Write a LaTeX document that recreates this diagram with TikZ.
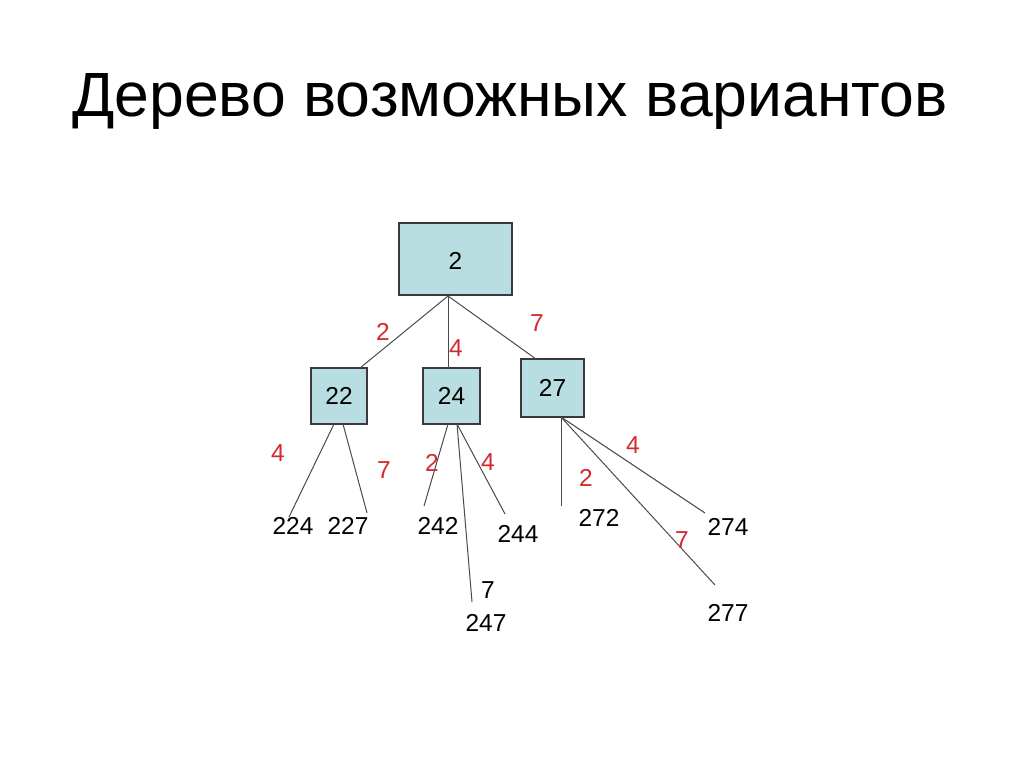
\documentclass[tikz,border=0pt]{standalone}
\usepackage{fontspec}
\setmainfont{Liberation Sans}
\definecolor{boxfill}{HTML}{B9DEE2}
\definecolor{boxline}{HTML}{3A3A3A}
\definecolor{lbl}{HTML}{D42A2E}
\definecolor{edge}{HTML}{4A4A4A}
\begin{document}
\begin{tikzpicture}[x=1pt,y=-1pt,
  box/.style={draw=boxline,line width=1.3pt,fill=boxfill,inner sep=0pt,font=\fontsize{24.5}{24.5}\selectfont},
  num/.style={inner sep=0pt,font=\fontsize{24.5}{24.5}\selectfont},
  wt/.style={inner sep=0pt,text=lbl,font=\fontsize{24.5}{24.5}\selectfont},
  edgeline/.style={draw=edge,line width=1pt}]
\useasboundingbox (0,0) rectangle (1024,768);
\node[anchor=base,inner sep=0pt,font=\fontsize{62.5}{62.5}\selectfont] (title) at (510,116) {Дерево возможных вариантов};
% boxes
\node[box,minimum width=113pt,minimum height=72pt] (n2) at (455.5,259) {};
\node[num] (t2) at (455.5,261) {2};
\node[box,minimum width=56pt,minimum height=56pt] (n22) at (339,396) {22};
\node[box,minimum width=57pt,minimum height=56pt] (n24) at (451.5,396) {24};
\node[box,minimum width=63pt,minimum height=58pt] (n27) at (552.5,388) {27};
% coordinates
\coordinate (r) at (448,296);
\coordinate (a22) at (360,368);
\coordinate (a24) at (448,368);
\coordinate (a27) at (536,359);
\coordinate (b22l) at (334,424);
\coordinate (b22r) at (343,424);
\coordinate (b24l) at (448,424);
\coordinate (b24r) at (457,424);
\coordinate (b27) at (561,417);
\coordinate (e224) at (289,517);
\coordinate (e227) at (367,513);
\coordinate (e242) at (424,506);
\coordinate (e247) at (472,602);
\coordinate (e244) at (505,514);
\coordinate (e272) at (561,506);
\coordinate (e274) at (705,513);
\coordinate (e277) at (715,585);
% edges
\draw[edgeline] (r) -- (a22);
\draw[edgeline] (r) -- (a24);
\draw[edgeline] (r) -- (a27);
\draw[edgeline] (b22l) -- (e224);
\draw[edgeline] (b22r) -- (e227);
\draw[edgeline] (b24l) -- (e242);
\draw[edgeline] (b24r) -- (e247);
\draw[edgeline] (b24r) -- (e244);
\draw[edgeline] (b27) -- (e272);
\draw[edgeline] (b27) -- (e274);
\draw[edgeline] (b27) -- (e277);
% weights
\node[wt] (w1) at (383,332) {2};
\node[wt] (w2) at (456,348) {4};
\node[wt] (w3) at (537,323) {7};
\node[wt] (w4) at (278,453) {4};
\node[wt] (w5) at (384,470) {7};
\node[wt] (w6) at (432,463) {2};
\node[wt] (w7) at (488,462) {4};
\node[wt] (w8) at (586,478) {2};
\node[wt] (w9) at (633,445) {4};
\node[wt] (w10) at (682,540) {7};
% leaves
\node[num] (l224) at (293,526) {224};
\node[num] (l227) at (348,526) {227};
\node[num] (l242) at (438,526) {242};
\node[num] (l244) at (518,534) {244};
\node[num] (l7) at (488,590) {7};
\node[num] (l247) at (486,623) {247};
\node[num] (l272) at (599,518) {272};
\node[num] (l274) at (728,527) {274};
\node[num] (l277) at (728,613) {277};
\end{tikzpicture}
\end{document}
